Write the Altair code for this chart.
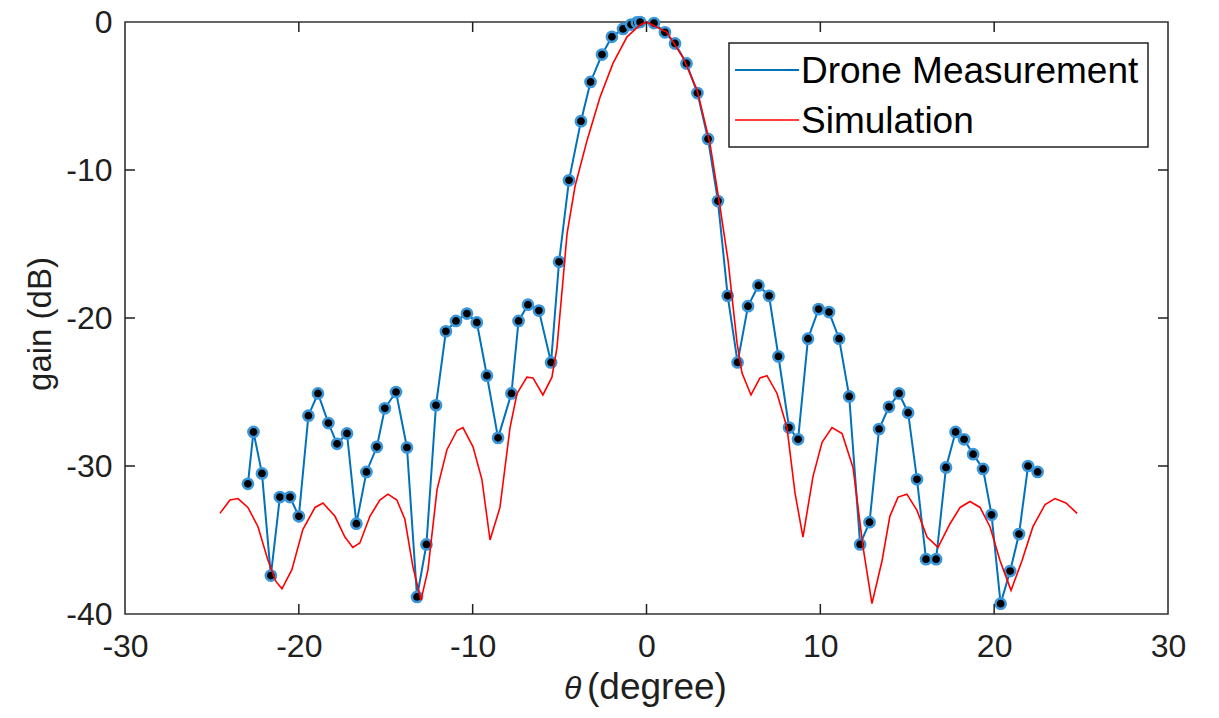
import altair as alt
import pandas as pd

# Drone measurement (theta in degrees, gain in dB)
meas_theta = [-22.93, -22.61, -22.12, -21.61, -21.09, -20.51, -20.0, -19.45, -18.9, -18.3,
              -17.8, -17.23, -16.69, -16.11, -15.51, -15.05, -14.41, -13.78, -13.2, -12.66,
              -12.11, -11.54, -10.96, -10.33, -9.76, -9.18, -8.54, -7.77, -7.36, -6.82,
              -6.19, -5.49, -5.03, -4.46, -3.77, -3.22, -2.56, -1.99, -1.35, -0.89,
              -0.55, -0.37, 0.43, 1.06, 1.64, 2.3, 2.93, 3.54, 4.11, 4.67,
              5.24, 5.84, 6.44, 7.05, 7.59, 8.2, 8.72, 9.29, 9.9, 10.5,
              11.08, 11.66, 12.29, 12.83, 13.38, 13.95, 14.53, 15.05, 15.56, 16.08,
              16.66, 17.23, 17.78, 18.27, 18.79, 19.36, 19.85, 20.37, 20.92, 21.43,
              21.95, 22.5]
meas_gain = [-31.2, -27.7, -30.5, -37.4, -32.1, -32.1, -33.4, -26.6, -25.1, -27.1,
             -28.5, -27.8, -33.9, -30.4, -28.7, -26.1, -25.0, -28.75, -38.85, -35.3,
             -25.9, -20.9, -20.2, -19.7, -20.3, -23.9, -28.1, -25.1, -20.2, -19.1,
             -19.5, -23.0, -16.2, -10.7, -6.7, -4.05, -2.2, -1.0, -0.47, -0.17,
             -0.03, 0.0, -0.07, -0.7, -1.45, -2.8, -4.8, -7.9, -12.1, -18.5,
             -23.0, -19.2, -17.8, -18.5, -22.6, -27.4, -28.2, -21.4, -19.4, -19.6,
             -21.4, -25.3, -35.3, -33.8, -27.5, -26.0, -25.1, -26.4, -30.9, -36.3,
             -36.3, -30.1, -27.7, -28.2, -29.2, -30.2, -33.3, -39.3, -37.1, -34.6,
             -30.0, -30.4]

# Simulation
sim_theta = [-24.54, -23.96, -23.5, -22.93, -22.35, -21.78, -21.32, -20.97, -20.4, -19.77,
             -19.07, -18.61, -17.92, -17.35, -16.89, -16.49, -15.91, -15.34, -14.87, -14.36,
             -13.9, -13.44, -12.97, -12.57, -12.05, -11.48, -10.9, -10.56, -9.98, -9.47,
             -9.0, -8.43, -7.85, -7.45, -6.88, -6.53, -5.96, -5.44, -5.15, -4.8,
             -4.57, -4.11, -3.42, -2.68, -1.93, -1.12, -0.37, 0.0, 1.18, 2.1,
             2.91, 3.65, 4.23, 4.69, 5.21, 5.49, 6.01, 6.53, 6.93, 7.51,
             8.08, 8.54, 9.0, 9.58, 10.1, 10.67, 11.25, 11.88, 12.46, 12.97,
             13.55, 14.0, 14.47, 14.98, 15.56, 16.14, 16.77, 17.46, 18.04, 18.61,
             19.19, 19.76, 20.34, 20.97, 21.6, 22.23, 22.93, 23.5, 24.13, 24.77]
sim_gain = [-33.2, -32.3, -32.2, -32.8, -34.1, -36.35, -37.8, -38.3, -37.0, -34.3,
            -32.8, -32.5, -33.4, -34.8, -35.5, -35.2, -33.4, -32.3, -31.9, -32.3,
            -33.6, -36.8, -39.05, -37.0, -31.6, -28.9, -27.6, -27.4, -28.7, -30.9,
            -35.0, -32.8, -27.4, -25.1, -24.0, -24.05, -25.2, -24.0, -22.0, -17.4,
            -14.3, -11.1, -8.0, -5.1, -2.8, -1.0, -0.2, 0.0, -0.7, -2.4,
            -4.6, -8.2, -12.5, -16.1, -21.7, -23.7, -25.2, -24.05, -23.9, -25.1,
            -27.4, -31.8, -34.8, -30.7, -28.4, -27.4, -27.8, -30.1, -35.5, -39.3,
            -36.4, -33.4, -32.1, -31.9, -33.0, -34.8, -35.5, -33.9, -32.8, -32.4,
            -32.8, -34.1, -36.4, -38.4, -36.4, -34.1, -32.6, -32.2, -32.5, -33.2]

x_ticks = [-30, -20, -10, 0, 10, 20, 30]
y_ticks = [-40, -30, -20, -10, 0]
x_inner_ticks = [-20, -10, 0, 10, 20]
y_inner_ticks = [-30, -20, -10]
legend_labels = ["Drone Measurement", "Simulation"]

FONT = "Liberation Sans"
TXT = "#1f1f1f"
BLUE = "#0072BD"
RED = "#FF0000"
W, H = 1043, 592

meas = pd.DataFrame({"theta": meas_theta, "gain": meas_gain})
sim = pd.DataFrame({"theta": sim_theta, "gain": sim_gain})
xt = pd.DataFrame({"theta": x_inner_ticks})
yt = pd.DataFrame({"gain": y_inner_ticks})
one = pd.DataFrame({"k": [0]})

xscale = alt.Scale(domain=[-30, 30], nice=False, zero=False)
yscale = alt.Scale(domain=[-40, 0], nice=False, zero=False)
xax = alt.Axis(values=x_ticks, title=None, ticks=False, domain=False, grid=False,
               labelExpr="'' + datum.value",
               labelFontSize=32, labelColor=TXT, labelFont=FONT, labelPadding=17,
               labelFlush=False, labelOverlap=False, labelBound=False)
yax = alt.Axis(values=y_ticks, title=None, ticks=False, domain=False, grid=False,
               labelExpr="'' + datum.value",
               labelFontSize=32, labelColor=TXT, labelFont=FONT, labelPadding=13,
               labelOverlap=False, labelBound=False)

X = alt.X("theta:Q", scale=xscale, axis=xax)
Y = alt.Y("gain:Q", scale=yscale, axis=yax)

meas_line = alt.Chart(meas).mark_line(color=BLUE, strokeWidth=2).encode(x=X, y=Y, order="theta:Q")
meas_pts = alt.Chart(meas).mark_point(shape="circle", filled=True, fill="black", stroke="#3A96DA",
                                      strokeWidth=2.5, size=105, opacity=1).encode(x=X, y=Y)
sim_line = alt.Chart(sim).mark_line(color=RED, strokeWidth=1.6).encode(x=X, y=Y, order="theta:Q")

tick_b = alt.Chart(xt).mark_rule(color=TXT, strokeWidth=1.5).encode(x=X, y=alt.value(H), y2=alt.value(H - 10))
tick_t = alt.Chart(xt).mark_rule(color=TXT, strokeWidth=1.5).encode(x=X, y=alt.value(0), y2=alt.value(10))
tick_l = alt.Chart(yt).mark_rule(color=TXT, strokeWidth=1.5).encode(y=Y, x=alt.value(0), x2=alt.value(10))
tick_r = alt.Chart(yt).mark_rule(color=TXT, strokeWidth=1.5).encode(y=Y, x=alt.value(W), x2=alt.value(W - 10))

# legend (manual)
leg_box = alt.Chart(one).mark_rect(fill="white", stroke="#222222", strokeWidth=1.5).encode(
    x=alt.value(604), x2=alt.value(1023), y=alt.value(21), y2=alt.value(125))
leg_l1 = alt.Chart(one).mark_rule(color=BLUE, strokeWidth=2).encode(
    x=alt.value(610), x2=alt.value(674), y=alt.value(48))
leg_l2 = alt.Chart(one).mark_rule(color=RED, strokeWidth=1.6).encode(
    x=alt.value(610), x2=alt.value(674), y=alt.value(98))
leg_t1 = alt.Chart(one).mark_text(text=legend_labels[0], font=FONT, fontSize=37, color="black",
                                  align="left", baseline="alphabetic").encode(
    x=alt.value(676), y=alt.value(61))
leg_t2 = alt.Chart(one).mark_text(text=legend_labels[1], font=FONT, fontSize=37, color="black",
                                  align="left", baseline="alphabetic").encode(
    x=alt.value(676), y=alt.value(111))

# axis titles
xtitle_theta = alt.Chart(one).mark_text(text="θ", font=FONT, fontSize=32, fontStyle="italic",
                                        color=TXT, align="left", baseline="alphabetic").encode(
    x=alt.value(439), y=alt.value(677))
xtitle_rest = alt.Chart(one).mark_text(text="(degree)", font=FONT, fontSize=37,
                                       color=TXT, align="left", baseline="alphabetic").encode(
    x=alt.value(462), y=alt.value(677))
ytitle = alt.Chart(one).mark_text(text="gain (dB)", font=FONT, fontSize=33, angle=270,
                                  color=TXT, align="center", baseline="middle").encode(
    x=alt.value(-84), y=alt.value(302))

chart = alt.layer(
    meas_line, meas_pts, sim_line, tick_b, tick_t, tick_l, tick_r,
    leg_box, leg_l1, leg_l2, leg_t1, leg_t2, xtitle_theta, xtitle_rest, ytitle
).properties(
    width=W, height=H,
    autosize=alt.AutoSizeParams(type="none"),
    padding={"left": 117, "top": 14, "right": 40, "bottom": 96},
    background="white",
).configure_view(stroke="#333333", strokeWidth=1.6)

chart.save("out.html", embed_options={"renderer": "svg", "actions": False})
